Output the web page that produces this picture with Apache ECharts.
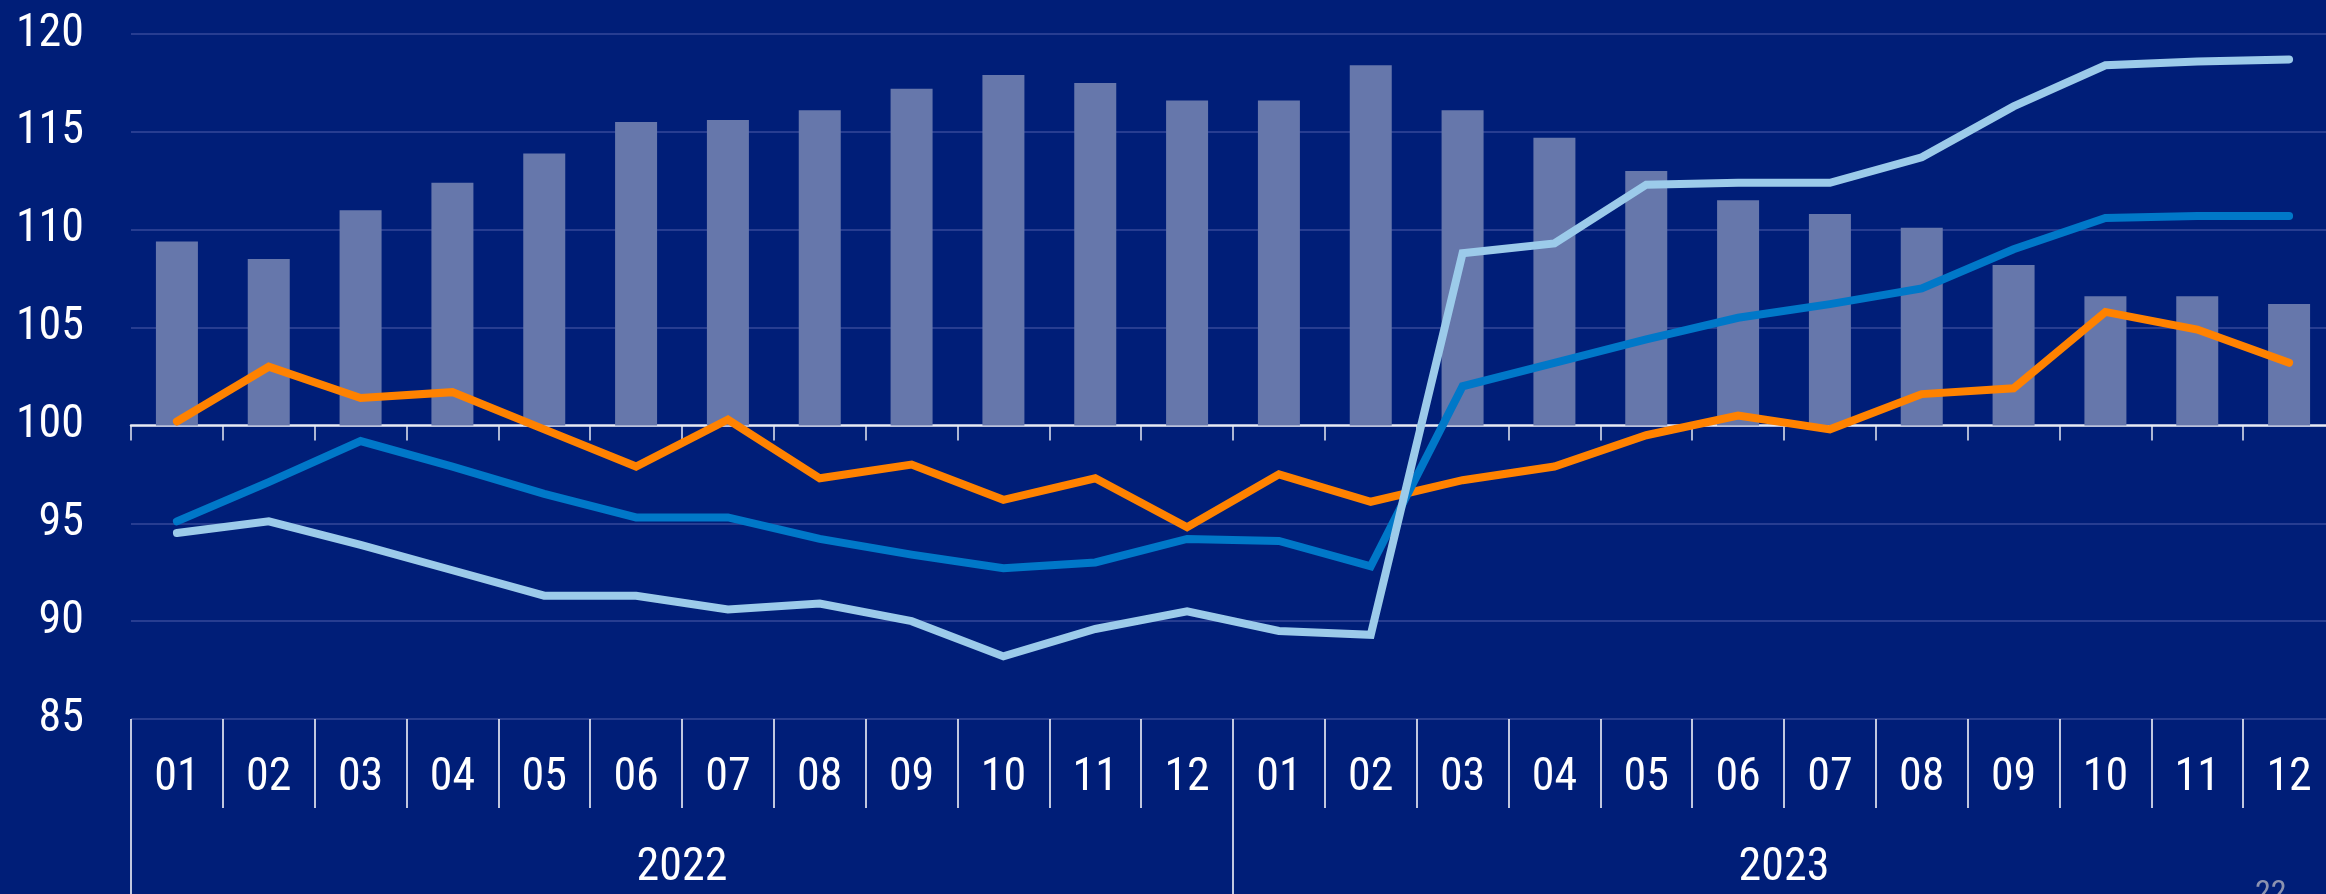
<!DOCTYPE html>
<html>
<head>
<meta charset="utf-8">
<script src="https://cdn.jsdelivr.net/npm/echarts@6/dist/echarts.min.js"></script>
<style>
  html, body { margin: 0; padding: 0; background: #001e78; }
  #chart { width: 2326px; height: 894px; }
</style>
</head>
<body>
<div id="chart"></div>
<script>
var months = ['01', '02', '03', '04', '05', '06', '07', '08', '09', '10', '11', '12',
              '01', '02', '03', '04', '05', '06', '07', '08', '09', '10', '11', '12'];
var years = ['2022', '2023'];

var yMin = 85;
var yMax = 120;
var yStep = 5;
var barBase = 100;

var barValues = [109.4, 108.5, 111.0, 112.4, 113.9, 115.5, 115.6, 116.1, 117.2, 117.9, 117.5, 116.6,
                 116.6, 118.4, 116.1, 114.7, 113.0, 111.5, 110.8, 110.1, 108.2, 106.6, 106.6, 106.2];
var orangeLine = [100.2, 103.0, 101.4, 101.7, 99.8, 97.9, 100.3, 97.3, 98.0, 96.2, 97.3, 94.8,
                  97.5, 96.1, 97.2, 97.9, 99.5, 100.5, 99.8, 101.6, 101.9, 105.8, 104.9, 103.2];
var blueLine = [95.1, 97.1, 99.2, 97.9, 96.5, 95.3, 95.3, 94.2, 93.4, 92.7, 93.0, 94.2,
                94.1, 92.8, 102.0, 103.2, 104.4, 105.5, 106.2, 107.0, 109.0, 110.6, 110.7, 110.7];
var lightBlueLine = [94.5, 95.1, 93.9, 92.6, 91.3, 91.3, 90.6, 90.9, 90.0, 88.2, 89.6, 90.5,
                     89.5, 89.3, 108.8, 109.3, 112.3, 112.4, 112.4, 113.7, 116.3, 118.4, 118.6, 118.7];

var FONT = "'Liberation Sans Narrow', 'Roboto Condensed', 'Noto Sans', sans-serif";

var chart = echarts.init(document.getElementById('chart'), null, { renderer: 'canvas' });

// grid runs a bit past the right edge, like the cropped original
var gridTop = 34;
var gridHeight = 685;
var axisShift = -gridHeight * (barBase - yMin) / (yMax - yMin);

var option = {
  backgroundColor: '#001e78',
  animation: false,
  grid: {
    left: 131,
    top: gridTop,
    width: 2204,
    height: gridHeight,
    outerBoundsMode: 'none',
    containLabel: false
  },
  xAxis: [{
    // white axis line at 100
    type: 'category',
    data: months,
    position: 'bottom',
    offset: axisShift,
    axisLine: { show: true, lineStyle: { color: '#e6e9f2', width: 2.5 } },
    axisTick: { show: true, interval: 0, length: 15, lineStyle: { color: '#e6e9f2', width: 1.5 } },
    axisLabel: { show: false },
    splitLine: { show: false }
  }, {
    // month labels
    type: 'category',
    data: months,
    position: 'bottom',
    axisLine: { show: false },
    axisTick: { show: true, interval: 0, length: 89, lineStyle: { color: '#ffffff', width: 1.5 } },
    axisLabel: {
      interval: 0,
      margin: 59,
      verticalAlign: 'middle',
      color: '#ffffff',
      fontSize: 46,
      fontFamily: FONT
    },
    splitLine: { show: false }
  }, {
    // years
    type: 'category',
    data: years,
    position: 'bottom',
    axisLine: { show: false },
    axisTick: { show: true, interval: 0, length: 175, lineStyle: { color: '#ffffff', width: 1.5 } },
    axisLabel: {
      interval: 0,
      margin: 149,
      verticalAlign: 'middle',
      color: '#ffffff',
      fontSize: 46,
      fontFamily: FONT
    },
    splitLine: { show: false }
  }],
  yAxis: {
    type: 'value',
    min: yMin,
    max: yMax,
    interval: yStep,
    axisLine: { show: false },
    axisTick: { show: false },
    axisLabel: {
      margin: 47,
      color: '#ffffff',
      fontSize: 46,
      fontFamily: FONT
    },
    splitLine: { lineStyle: { color: '#34499a', width: 1.5 } }
  },
  series: [{
      name: 'base',
      type: 'bar',
      stack: 'bars',
      barWidth: 42,
      silent: true,
      itemStyle: { color: 'rgba(0,0,0,0)' },
      data: barValues.map(function() { return barBase; })
    },
    {
      name: 'bars',
      type: 'bar',
      stack: 'bars',
      barWidth: 42,
      itemStyle: { color: '#6677ab' },
      data: barValues.map(function(v) { return +(v - barBase).toFixed(2); })
    },
    {
      name: 'orange',
      type: 'line',
      data: orangeLine,
      symbol: 'none',
      lineStyle: { color: '#ff8200', width: 8, join: 'miter', cap: 'round' }
    },
    {
      name: 'blue',
      type: 'line',
      data: blueLine,
      symbol: 'none',
      lineStyle: { color: '#0078c8', width: 8, join: 'miter', cap: 'round' }
    },
    {
      name: 'lightblue',
      type: 'line',
      data: lightBlueLine,
      symbol: 'none',
      lineStyle: { color: '#9ccbea', width: 8, join: 'miter', cap: 'round' }
    }
  ],
  graphic: [{
    type: 'text',
    left: 2255,
    top: 878,
    style: { text: '22', fill: '#8c93b0', fontSize: 32, fontFamily: FONT }
  }]
};

chart.setOption(option);
</script>
</body>
</html>
